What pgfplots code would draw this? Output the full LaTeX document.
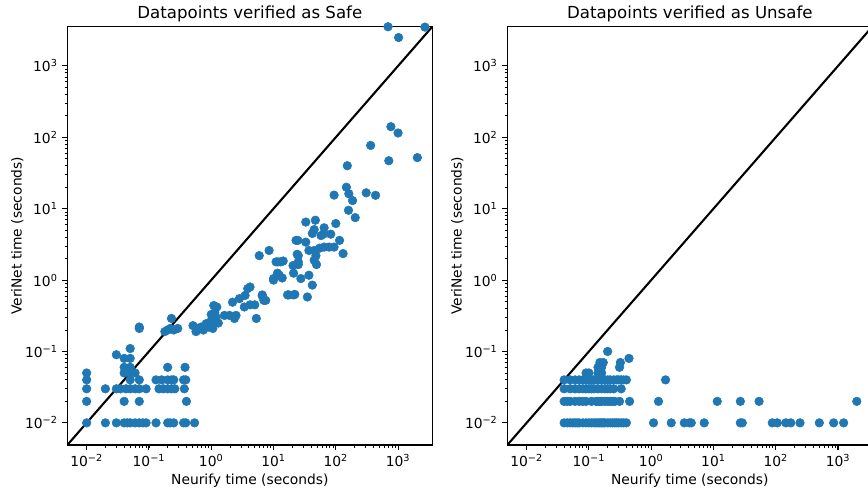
\documentclass[border=0pt]{standalone}
\usepackage{fontspec}
\setmainfont{DejaVu Sans}
\usepackage{pgfplots}
\pgfplotsset{compat=1.18}
\usepackage{pgfplotstable}

\definecolor{mplblue}{RGB}{31,119,180}

% Neurify vs. VeriNet timings, safe cases
\pgfplotstableread{
x y
0.01 0.01
0.02 0.01
0.03 0.01
0.04 0.01
0.045 0.01
0.05 0.01
0.06 0.01
0.07 0.01
0.08 0.01
0.09 0.01
0.13 0.01
0.2 0.01
0.22 0.01
0.25 0.01
0.36 0.01
0.39 0.01
0.54 0.01
0.01 0.02
0.04 0.02
0.07 0.02
0.4 0.02
0.01 0.03
0.02 0.03
0.03 0.03
0.035 0.03
0.043 0.03
0.05 0.03
0.06 0.03
0.07 0.03
0.09 0.03
0.145 0.03
0.17 0.03
0.2 0.03
0.23 0.03
0.26 0.03
0.37 0.03
0.01 0.04
0.05 0.04
0.07 0.04
0.13 0.04
0.16 0.04
0.2 0.04
0.23 0.04
0.25 0.04
0.36 0.04
0.39 0.04
0.01 0.05
0.04 0.05
0.05 0.05
0.06 0.05
0.04 0.06
0.05 0.06
0.2 0.06
0.38 0.06
0.04 0.08
0.05 0.08
0.03 0.09
0.05 0.11
0.07 0.21
0.07 0.22
0.23 0.29
0.18 0.19
0.2 0.2
0.22 0.21
0.25 0.2
0.29 0.21
0.51 0.23
0.57 0.19
0.6 0.21
0.69 0.22
0.75 0.2
0.83 0.245
0.9 0.22
1.0 0.27
1.06 0.21
1.1 0.25
1.14 0.35
1.23 0.42
1.3 0.25
1.2 0.3
1.0 0.33
1.1 0.44
1.63 0.32
1.96 0.32
2.36 0.29
2.5 0.32
2.2 0.49
2.84 0.55
3.4 0.42
3.5 0.61
3.86 0.76
4.2 0.8
4.2 0.45
5.0 0.45
5.3 0.29
5.9 2.2
8.5 2.6
6.6 0.6
7.5 0.52
10 1.05
11 1.8
13 1.8
11.6 1.25
16.8 0.62
21 0.62
23 3.6
24 2.3
363 77
710 47
153 40
148 20
162 16.2
186 13
94 15.5
308 16.7
435 15.4
160 9.5
205 7.5
33 6.5
47 6.9
100 6.2
45 5.1
65 5.4
63 4.4
83 4.4
42 4.5
24.6 3.6
33 3.4
58 4.2
115 3.6
131 2.35
37 2.6
45 2.6
55 2.8
65 2.9
78 2.9
94 2.9
48 2.2
45 1.9
49 1.65
25 2.2
25 1.8
20.6 1.6
25 1.65
21 1.25
11.8 1.8
14.3 1.85
12.4 1.17
10 1.0
13.8 1.07
27.5 1.05
37 1.17
42 0.85
17.7 0.62
22 0.63
35 0.58
6.6 0.62
7 0.52
690 3540
1020 2500
2700 3500
767 141
1000 115
2040 52
}\safedata

% Neurify vs. VeriNet timings, unsafe cases
\pgfplotstableread{
x y
0.04 0.01
0.045 0.01
0.05 0.01
0.055 0.01
0.06 0.01
0.065 0.01
0.07 0.01
0.08 0.01
0.09 0.01
0.1 0.01
0.11 0.01
0.12 0.01
0.13 0.01
0.14 0.01
0.15 0.01
0.16 0.01
0.17 0.01
0.18 0.01
0.2 0.01
0.22 0.01
0.24 0.01
0.26 0.01
0.28 0.01
0.3 0.01
0.33 0.01
0.36 0.01
0.4 0.01
1.09 0.01
2.1 0.01
3.4 0.01
4.1 0.01
4.4 0.01
7.1 0.01
27 0.01
29 0.01
88 0.01
106 0.01
145 0.01
174 0.01
245 0.01
500 0.01
850 0.01
1230 0.01
0.04 0.02
0.045 0.02
0.05 0.02
0.06 0.02
0.07 0.02
0.08 0.02
0.09 0.02
0.11 0.02
0.13 0.02
0.14 0.02
0.15 0.02
0.16 0.02
0.18 0.02
0.2 0.02
0.22 0.02
0.24 0.02
0.26 0.02
0.31 0.02
0.45 0.02
1.31 0.02
11.5 0.02
27 0.02
54 0.02
2000 0.02
0.04 0.03
0.05 0.03
0.06 0.03
0.07 0.03
0.08 0.03
0.09 0.03
0.1 0.03
0.11 0.03
0.12 0.03
0.14 0.03
0.16 0.03
0.18 0.03
0.2 0.03
0.22 0.03
0.25 0.03
0.33 0.03
0.04 0.04
0.05 0.04
0.06 0.04
0.07 0.04
0.08 0.04
0.09 0.04
0.1 0.04
0.11 0.04
0.12 0.04
0.13 0.04
0.14 0.04
0.16 0.04
0.18 0.04
0.2 0.04
0.22 0.04
0.25 0.04
0.28 0.04
0.3 0.04
0.33 0.04
0.36 0.04
0.4 0.04
1.7 0.04
0.09 0.05
0.1 0.05
0.14 0.05
0.16 0.05
0.14 0.06
0.16 0.06
0.31 0.06
0.15 0.07
0.17 0.07
0.32 0.07
0.44 0.08
0.2 0.1
}\unsafedata

\pgfplotsset{
  every axis title shift=0pt,
  every axis/.append style={
    scale only axis,
    width=262.8bp, height=301.2bp,
    xmin=0.0049, xmax=3550, ymin=0.0049, ymax=3550,
    axis line style={line width=0.8bp},
    tick align=outside,
    xtick pos=bottom, ytick pos=left,
    major tick length=3.5bp, minor tick length=2bp,
    every major tick/.style={line width=0.8bp, black},
    every minor tick/.style={line width=0.6bp, black},
    xtick={0.01,0.1,1,10,100,1000},
    ytick={0.01,0.1,1,10,100,1000},
    xticklabels={10\textsuperscript{−2},10\textsuperscript{−1},10\textsuperscript{0},10\textsuperscript{1},10\textsuperscript{2},10\textsuperscript{3}},
    yticklabels={10\textsuperscript{−2},10\textsuperscript{−1},10\textsuperscript{0},10\textsuperscript{1},10\textsuperscript{2},10\textsuperscript{3}},
    ticklabel style={font=\fontsize{10}{12}\selectfont},
    title style={font=\fontsize{12}{14}\selectfont, at={(axis description cs:0.5,1.0198)}, anchor=base, yshift=0pt},
    label style={font=\fontsize{10}{12}\selectfont},
    xlabel style={at={(axis description cs:0.5,-0.0956)}, anchor=base},
    ylabel style={at={(axis description cs:-0.137,0.5)}, anchor=center},
    xlabel={Neurify time (seconds)},
    ylabel={VeriNet time (seconds)},
  },
}

\begin{document}
\begin{tikzpicture}
\begin{loglogaxis}[at={(48.5bp,35.3bp)}, anchor=south west,
  title={Datapoints verified as Safe}]
  \addplot[only marks, mark=*, mark size=3.1bp, color=mplblue, mark options={draw=none, fill=mplblue}]
    table[x=x, y=y] {\safedata};
  \addplot[black, line width=1.5bp, no marks] coordinates {(0.0049,0.0049) (3550,3550)};
\end{loglogaxis}
\begin{loglogaxis}[at={(365.3bp,35.3bp)}, anchor=south west,
  title={Datapoints verified as Unsafe}]
  \addplot[only marks, mark=*, mark size=3.1bp, color=mplblue, mark options={draw=none, fill=mplblue}]
    table[x=x, y=y] {\unsafedata};
  \addplot[black, line width=1.5bp, no marks] coordinates {(0.0049,0.0049) (3550,3550)};
\end{loglogaxis}
\pgfresetboundingbox
\path[use as bounding box] (0,0) rectangle (625bp,355.7bp);
\end{tikzpicture}
\end{document}
